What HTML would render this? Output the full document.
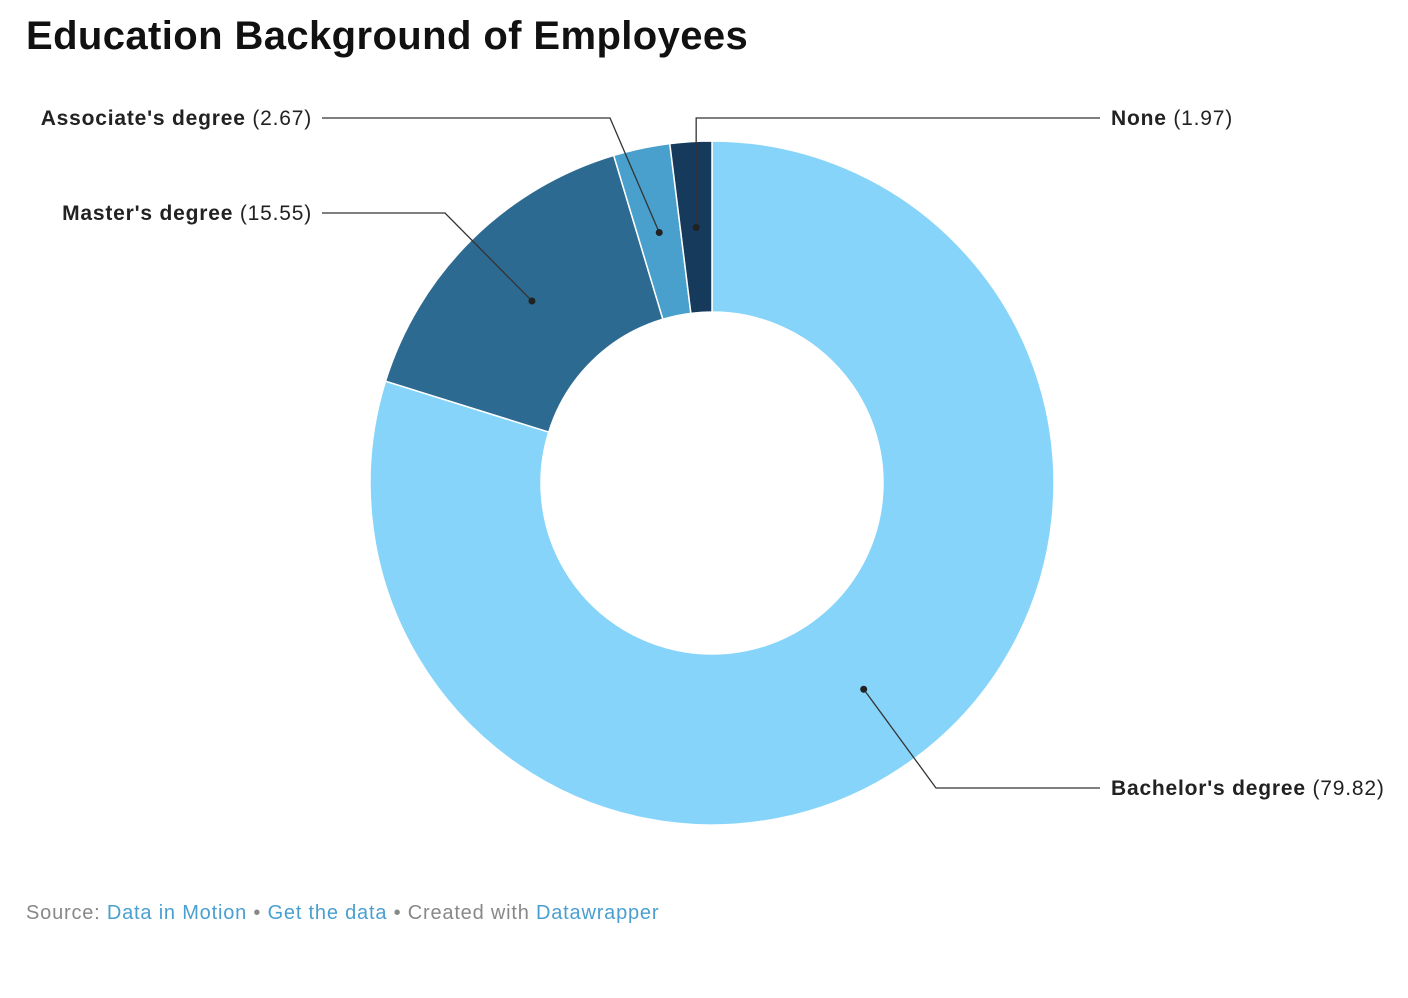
<!DOCTYPE html>
<html><head><meta charset="utf-8">
<style>
body{margin:0;background:#fff;width:1408px;height:998px;overflow:hidden;font-family:"Liberation Sans",sans-serif;}
h1{position:absolute;left:26px;top:14px;margin:0;font-size:40px;font-weight:bold;color:#111;letter-spacing:0.4px;}
#foot{position:absolute;left:26px;top:902px;font-size:20px;color:#888;letter-spacing:0.8px;}
#foot a{color:#4a9fd0;text-decoration:none;}
svg{position:absolute;left:0;top:0;}
</style></head><body>
<h1>Education Background of Employees</h1>
<svg id="chart" width="1408" height="998"></svg>
<div id="foot">Source: <a>Data in Motion</a> • <a>Get the data</a> • Created with <a>Datawrapper</a></div>
<script>
const categories=["Bachelor's degree","Master's degree","Associate's degree","None"];
const values=[79.82,15.55,2.67,1.97];
const colors=["#86d4f9","#2d6a91","#4aa0cc","#163a5c"];
const cx=712,cy=483,R=342,r=171,rd=256;
const NS="http://www.w3.org/2000/svg";
const svg=document.getElementById('chart');
const total=values.reduce((a,b)=>a+b,0);
function pt(a,rad){return [cx+rad*Math.sin(a),cy-rad*Math.cos(a)];}
let acc=0;const dots=[];
values.forEach((v,i)=>{
  const a0=acc/total*2*Math.PI;acc+=v;const a1=acc/total*2*Math.PI;
  const lg=(a1-a0)>Math.PI?1:0;
  const p0=pt(a0,R),p1=pt(a1,R),q1=pt(a1,r),q0=pt(a0,r);
  const p=document.createElementNS(NS,'path');
  p.setAttribute('d',`M${p0}A${R},${R} 0 ${lg} 1 ${p1}L${q1}A${r},${r} 0 ${lg} 0 ${q0}Z`);
  p.setAttribute('fill',colors[i]);p.setAttribute('stroke','#fff');p.setAttribute('stroke-width','1.5');
  
  
  svg.appendChild(p);
  dots.push(pt((a0+a1)/2,rd));
});
const lay=[[936,788,1100,1111,788,'start'],[445,213,322,312,213,'end'],[610,118,322,312,118,'end'],[690,118,1100,1111,118,'start']];
values.forEach((v,i)=>{
  const [bx,by,ex,tx,ty,an]=lay[i];const d=dots[i];
  const l=document.createElementNS(NS,'polyline');
  l.setAttribute('points',`${d[0]},${d[1]} ${i==3?d[0]:bx},${by} ${ex},${by}`);
  l.setAttribute('fill','none');l.setAttribute('stroke','#333');l.setAttribute('stroke-width','1.3');
  
  
  svg.appendChild(l);
  const c=document.createElementNS(NS,'circle');
  c.setAttribute('cx',d[0]);c.setAttribute('cy',d[1]);c.setAttribute('r',3.5);c.setAttribute('fill','#222');
  
  
  svg.appendChild(c);
  const t=document.createElementNS(NS,'text');
  t.setAttribute('x',tx);t.setAttribute('y',ty+7);t.setAttribute('text-anchor',an);
  t.setAttribute('font-size','21');t.setAttribute('fill','#222');t.setAttribute('letter-spacing','0.8');
  t.innerHTML=`<tspan font-weight="bold">${categories[i]}</tspan> (${v.toFixed(2)})`;
  
  
  svg.appendChild(t);
});
</script>
</body></html>
